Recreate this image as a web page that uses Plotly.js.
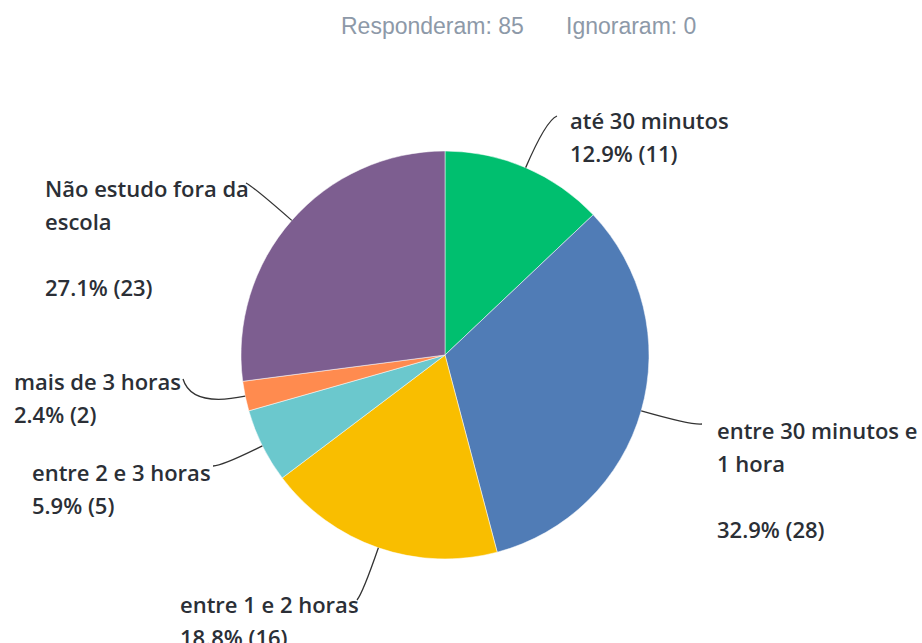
<!DOCTYPE html>
<html>
<head>
<meta charset="utf-8">
<script src="https://cdn.plot.ly/plotly-3.0.1.min.js"></script>
<style>
  html, body { margin: 0; padding: 0; background: #fff; }
  #plotArea { width: 922px; height: 643px; }
</style>
</head>
<body>
<div id="plotArea"></div>
<script>
// survey answers, clockwise from the top
var categories = ["até 30 minutos", "entre 30 minutos e 1 hora", "entre 1 e 2 horas",
    "entre 2 e 3 horas", "mais de 3 horas", "Não estudo fora da escola"];
var counts = [11, 28, 16, 5, 2, 23];
var colors = ["#00BF6F", "#507CB6", "#F9BE00", "#6BC8CD", "#FF8B4F", "#7D5E90"];
// how each label wraps on screen ("" = blank line)
var labelLines = [
    ["até 30 minutos"],
    ["entre 30 minutos e", "1 hora", ""],
    ["entre 1 e 2 horas"],
    ["entre 2 e 3 horas"],
    ["mais de 3 horas"],
    ["Não estudo fora da", "escola", ""]
];
var answered = 85, skipped = 0;

var W = 922, H = 643;
var cx = 445, cy = 355, R = 204;
function px(x) { return x / W; }
function py(y) { return 1 - y / H; }

var total = counts.reduce(function (a, b) { return a + b; }, 0);

// label placement: left of first line, leader-line end point
var labelPos = [
    {x: 568, y: 120, end: [557, 116]},
    {x: 715, y: 430, end: [702, 424]},
    {x: 178, y: 604, end: [357, 600]},
    {x: 30, y: 472, end: [213, 466]},
    {x: 12, y: 381, end: [183, 379]},
    {x: 43, y: 188, end: [246, 183]}
];
var lineStep = 33;

var trace = {
    type: "pie",
    labels: categories,
    values: counts,
    sort: false,
    direction: "clockwise",
    rotation: 0,
    marker: {colors: colors, line: {color: "#ffffff", width: 0.5}},
    textinfo: "none",
    hoverinfo: "skip",
    showlegend: false,
    domain: {x: [px(cx - R), px(cx + R)], y: [py(cy + R), py(cy - R)]}
};

var font = {family: "'Open Sans', 'DejaVu Sans', sans-serif", size: 22, color: "#2b2f36", weight: 600};
var annotations = [];
var shapes = [];
var cum = 0;
counts.forEach(function (v, i) {
    var mid = (cum + v / 2) / total * 2 * Math.PI;
    cum += v;
    var sx = cx + R * Math.sin(mid), sy = cy - R * Math.cos(mid);
    var lines = labelLines[i].concat([(v / total * 100).toFixed(1) + "% (" + v + ")"]);
    var p = labelPos[i];
    lines.forEach(function (t, k) {
        if (t === "") return;
        annotations.push({
            xref: "paper", yref: "paper", x: px(p.x), y: py(p.y + k * lineStep),
            xanchor: "left", yanchor: "middle", text: t, showarrow: false, font: font
        });
    });
    // curved leader line: goes out radially, then bends toward the label
    var ex = p.end[0], ey = p.end[1];
    var dist = Math.sqrt((ex - sx) * (ex - sx) + (ey - sy) * (ey - sy));
    var qx = sx + 0.85 * dist * Math.sin(mid), qy = sy - 0.85 * dist * Math.cos(mid);
    shapes.push({
        type: "path", xref: "paper", yref: "paper",
        path: "M " + px(sx) + "," + py(sy) + " Q " + px(qx) + "," + py(qy) + " " + px(ex) + "," + py(ey),
        line: {color: "#333333", width: 1.3}
    });
});

var headFont = {family: "'Liberation Sans', Arial, sans-serif", size: 23, color: "#8d99a8"};
annotations.push({xref: "paper", yref: "paper", x: px(339), y: py(26), xanchor: "left", yanchor: "middle",
    text: "Responderam: " + answered, showarrow: false, font: headFont});
annotations.push({xref: "paper", yref: "paper", x: px(564), y: py(26), xanchor: "left", yanchor: "middle",
    text: "Ignoraram: " + skipped, showarrow: false, font: headFont});

var layout = {
    width: W, height: H,
    margin: {l: 0, r: 0, t: 0, b: 0},
    paper_bgcolor: "#ffffff",
    annotations: annotations,
    shapes: shapes
};

Plotly.newPlot("plotArea", [trace], layout, {displayModeBar: false, staticPlot: true});
</script>
</body>
</html>
